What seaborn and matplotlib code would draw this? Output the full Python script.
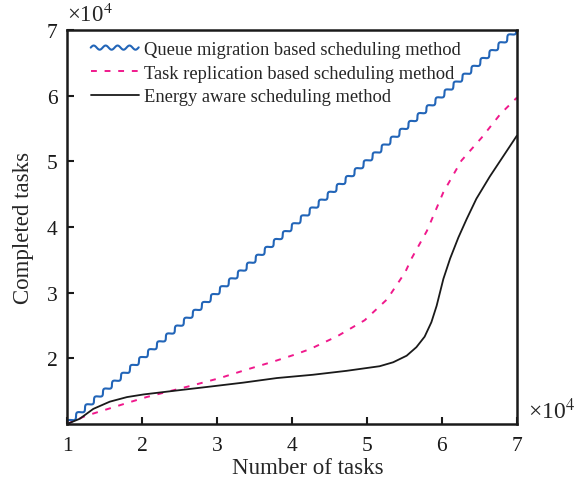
import numpy as np
import pandas as pd
import seaborn as sns
import matplotlib
matplotlib.use("Agg")
import matplotlib.pyplot as plt
from matplotlib.patheffects import AbstractPathEffect
from matplotlib.path import Path
from matplotlib.transforms import IdentityTransform

# values (both axes in units of 10^4)
queue_x = [1, 2, 3, 4, 5, 6, 7]
queue_y = [1, 2, 3, 4, 5, 6, 7]

repl_x = [1.0, 1.24, 1.8, 2.06, 2.68, 3.04, 3.4, 3.75, 4.02, 4.24, 4.61, 4.97,
          5.27, 5.51, 5.6, 5.8, 6.02, 6.26, 6.53, 6.78, 7.0]
repl_y = [1.0, 1.12, 1.32, 1.41, 1.59, 1.70, 1.83, 1.95, 2.05, 2.14, 2.34, 2.58,
          2.90, 3.31, 3.53, 3.94, 4.53, 5.01, 5.36, 5.72, 5.97]

energy_x = [1.0, 1.17, 1.35, 1.57, 1.8, 2.02, 2.46, 2.91, 3.35, 3.8, 4.28, 4.73,
            5.17, 5.35, 5.53, 5.66, 5.77, 5.86, 5.93, 6.02, 6.11, 6.22, 6.33,
            6.46, 6.64, 6.82, 7.0]
energy_y = [1.0, 1.08, 1.23, 1.34, 1.41, 1.45, 1.51, 1.57, 1.63, 1.70, 1.75, 1.81,
            1.88, 1.94, 2.04, 2.17, 2.33, 2.55, 2.80, 3.21, 3.52, 3.84, 4.12,
            4.43, 4.77, 5.08, 5.39]

labels = ["Queue migration based scheduling method",
          "Task replication based scheduling method",
          "Energy aware scheduling method"]
x_ticks = [1, 2, 3, 4, 5, 6, 7]
y_ticks = [2, 3, 4, 5, 6, 7]


class Wavy(AbstractPathEffect):
    """draws the line as a small sine wave along its own path"""

    def __init__(self, period=8.6, amp=1.5):
        super().__init__()
        self.period = period
        self.amp = amp

    def draw_path(self, renderer, gc, tpath, affine, rgbFace=None):
        pts = affine.transform(tpath.vertices)
        seg = np.diff(pts, axis=0)
        dist = np.concatenate([[0], np.cumsum(np.hypot(seg[:, 0], seg[:, 1]))])
        s = np.arange(0, dist[-1], 0.5)
        x = np.interp(s, dist, pts[:, 0])
        y = np.interp(s, dist, pts[:, 1])
        dx, dy = np.gradient(x), np.gradient(y)
        n = np.hypot(dx, dy)
        n[n == 0] = 1
        per = renderer.points_to_pixels(self.period)
        amp = renderer.points_to_pixels(self.amp)
        off = amp * np.sin(2 * np.pi * s / per)
        new = np.column_stack([x - dy / n * off, y + dx / n * off])
        renderer.draw_path(gc, Path(new), IdentityTransform(), rgbFace)


sns.set_style("ticks")
plt.rcParams["font.family"] = ["Liberation Serif", "DejaVu Serif"]
plt.rcParams["mathtext.fontset"] = "stix"

fig = plt.figure(figsize=(5.88, 4.85), dpi=100)
ax = fig.add_axes([0.114, 0.1237, 0.765, 0.8124])

sns.lineplot(x=queue_x, y=queue_y, ax=ax, color="#2265b8", lw=1.5,
             label=labels[0], path_effects=[Wavy()])
sns.lineplot(x=repl_x, y=repl_y, ax=ax, color="#f0198c", lw=1.4,
             dashes=False, label=labels[1])
sns.lineplot(x=energy_x, y=energy_y, ax=ax, color="#1a1a1a", lw=1.3,
             label=labels[2])
ax.lines[1].set_dashes((3, 4))

ax.set_xlim(1, 7)
ax.set_ylim(1, 7)
ax.set_xticks(x_ticks)
ax.set_yticks(y_ticks)
ax.tick_params(direction="in", length=5, width=1.5, labelsize=15.5,
               colors="#1a1a1a")
ax.tick_params(axis="x", pad=8.5)
ax.tick_params(axis="y", pad=7)
for sp in ax.spines.values():
    sp.set_visible(True)
    sp.set_linewidth(1.8)
    sp.set_color("#1a1a1a")

ax.set_xlabel("Number of tasks", fontsize=16.5, labelpad=4)
ax.xaxis.set_label_coords(0.536, -0.085)
ax.set_ylabel("Completed tasks", fontsize=16.5, labelpad=9)

ax.text(0.0, 1.01, r"×10$^{4}$", transform=ax.transAxes, fontsize=16.5,
        ha="left", va="bottom")
ax.text(1.025, 0.035, r"×10$^{4}$", transform=ax.transAxes, fontsize=17,
        ha="left", va="center")

ax.legend(loc="upper left", bbox_to_anchor=(0.028, 1.0), frameon=False,
          fontsize=13.3, handlelength=2.6, handletextpad=0.3,
          labelspacing=0.35, borderaxespad=0.2)

fig.savefig("out.png", dpi=100)
